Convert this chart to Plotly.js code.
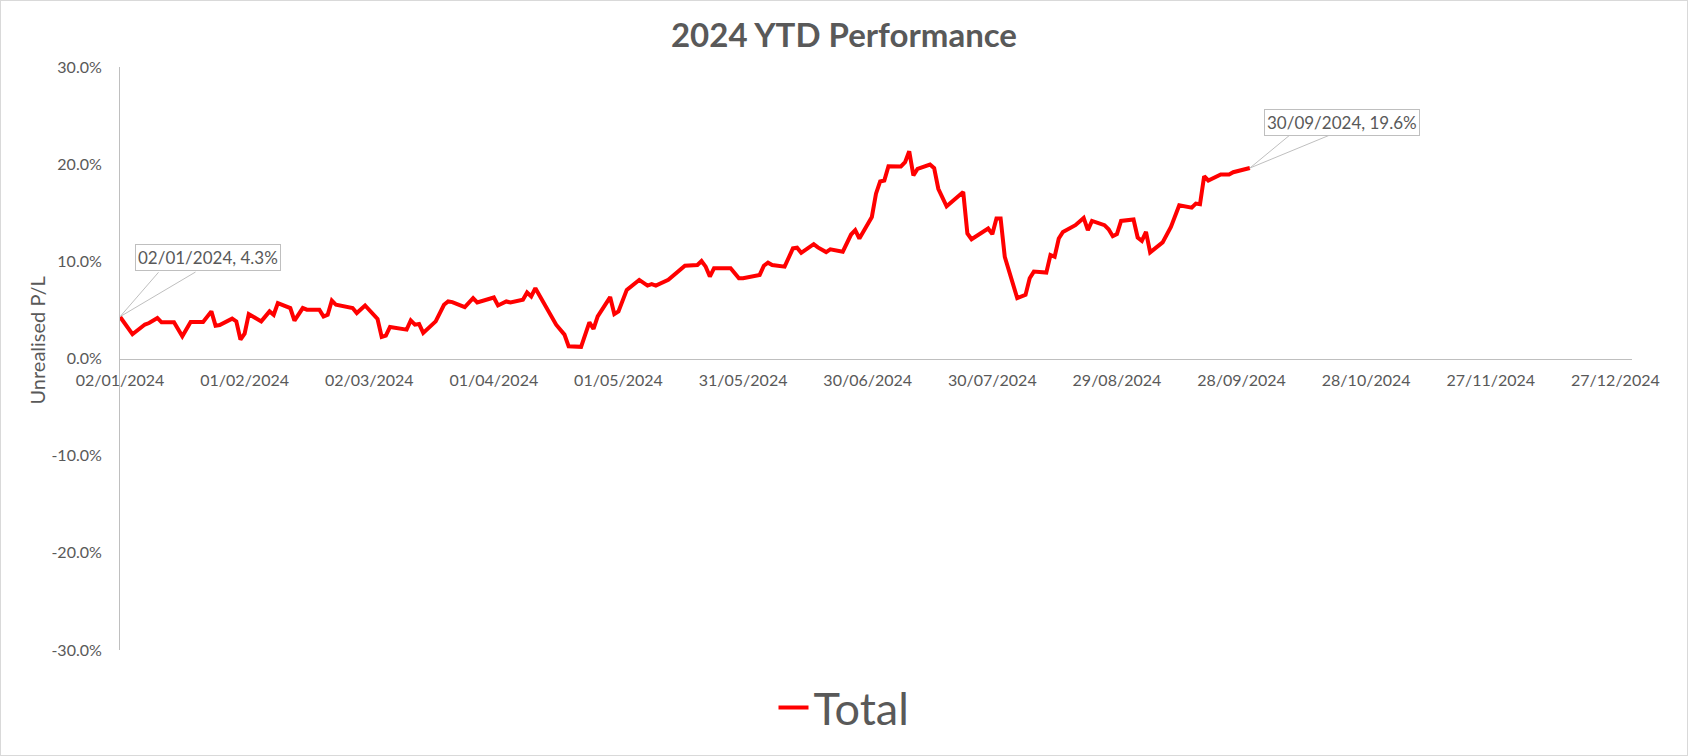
<!DOCTYPE html>
<html>
<head>
<meta charset="utf-8">
<script src="https://cdn.plot.ly/plotly-3.0.1.min.js"></script>
<style>
  html, body { margin: 0; padding: 0; background: #fff; overflow: hidden; }
  #wrap { position: relative; width: 1688px; height: 756px; }
  #chart { width: 1688px; height: 756px; }
  #frame { position: absolute; left: 0; top: 0; width: 1688px; height: 756px; box-sizing: border-box; border: 1px solid #d9d9d9; pointer-events: none; }
</style>
</head>
<body>
<div id="wrap"><div id="chart"></div><div id="frame"></div></div>
<script>
// ---- data ----
const dates = [
  '2024-01-02','2024-01-05','2024-01-08','2024-01-09','2024-01-11','2024-01-12','2024-01-15','2024-01-17','2024-01-19','2024-01-22',
  '2024-01-24','2024-01-25','2024-01-26','2024-01-29','2024-01-30','2024-01-31','2024-02-01','2024-02-02','2024-02-05','2024-02-07',
  '2024-02-08','2024-02-09','2024-02-12','2024-02-13','2024-02-15','2024-02-16','2024-02-19','2024-02-20','2024-02-21','2024-02-22',
  '2024-02-23','2024-02-26','2024-02-27','2024-02-28','2024-03-01','2024-03-04','2024-03-05','2024-03-06','2024-03-07','2024-03-11',
  '2024-03-12','2024-03-13','2024-03-14','2024-03-15','2024-03-18','2024-03-20','2024-03-21','2024-03-22','2024-03-25','2024-03-27',
  '2024-03-28','2024-04-01','2024-04-02','2024-04-04','2024-04-05','2024-04-08','2024-04-09','2024-04-10','2024-04-11','2024-04-16',
  '2024-04-18','2024-04-19','2024-04-22','2024-04-24','2024-04-25','2024-04-26','2024-04-29','2024-04-30','2024-05-01','2024-05-03',
  '2024-05-06','2024-05-08','2024-05-09','2024-05-10','2024-05-13','2024-05-17','2024-05-20','2024-05-21','2024-05-22','2024-05-23',
  '2024-05-24','2024-05-28','2024-05-30','2024-05-31','2024-06-03','2024-06-04','2024-06-05','2024-06-06','2024-06-07','2024-06-10',
  '2024-06-12','2024-06-13','2024-06-14','2024-06-17','2024-06-18','2024-06-19','2024-06-20','2024-06-21','2024-06-24','2024-06-26',
  '2024-06-27','2024-06-28','2024-07-01','2024-07-02','2024-07-03','2024-07-04','2024-07-05','2024-07-08','2024-07-09','2024-07-10',
  '2024-07-11','2024-07-12','2024-07-15','2024-07-16','2024-07-17','2024-07-19','2024-07-23','2024-07-24','2024-07-25','2024-07-29',
  '2024-07-30','2024-07-31','2024-08-01','2024-08-02','2024-08-05','2024-08-07','2024-08-08','2024-08-09','2024-08-12','2024-08-13',
  '2024-08-14','2024-08-15','2024-08-16','2024-08-19','2024-08-21','2024-08-22','2024-08-23','2024-08-26','2024-08-27','2024-08-28',
  '2024-08-29','2024-08-30','2024-09-02','2024-09-03','2024-09-04','2024-09-05','2024-09-06','2024-09-09','2024-09-11','2024-09-13',
  '2024-09-16','2024-09-17','2024-09-18','2024-09-19','2024-09-20','2024-09-23','2024-09-25','2024-09-26','2024-09-27','2024-09-30'
];
const totalPct = [
  4.30, 2.50, 3.50, 3.65, 4.17, 3.72, 3.72, 2.28, 3.75, 3.75,
  4.85, 3.38, 3.45, 4.10, 3.82, 1.95, 2.56, 4.57, 3.82, 4.85,
  4.50, 5.70, 5.19, 3.89, 5.19, 5.02, 5.02, 4.33, 4.50, 5.97,
  5.53, 5.25, 5.19, 4.68, 5.46, 4.07, 2.22, 2.36, 3.25, 2.97,
  3.92, 3.48, 3.55, 2.63, 3.82, 5.53, 5.87, 5.80, 5.29, 6.21,
  5.77, 6.28, 5.46, 5.87, 5.77, 6.04, 6.79, 6.38, 7.24, 3.48,
  2.46, 1.26, 1.20, 3.72, 3.04, 4.33, 6.32, 4.57, 4.85, 7.06,
  8.09, 7.51, 7.65, 7.51, 8.09, 9.55, 9.62, 10.03, 9.45, 8.43,
  9.28, 9.28, 8.26, 8.26, 8.50, 8.60, 9.55, 9.86, 9.62, 9.45,
  11.33, 11.40, 10.88, 11.77, 11.43, 11.20, 10.95, 11.23, 10.99, 12.76,
  13.21, 12.35, 14.57, 16.96, 18.22, 18.32, 19.79, 19.76, 20.20, 21.33,
  18.84, 19.52, 19.96, 19.59, 17.47, 15.66, 17.13, 12.87, 12.28, 13.38,
  12.80, 14.40, 14.40, 10.47, 6.21, 6.55, 8.26, 8.94, 8.84, 10.65,
  10.47, 12.35, 13.03, 13.72, 14.47, 13.21, 14.16, 13.72, 13.30, 12.59,
  12.80, 14.16, 14.30, 12.45, 12.11, 13.03, 10.92, 11.95, 13.54, 15.76,
  15.53, 15.94, 15.87, 18.76, 18.32, 18.94, 18.94, 19.17, 19.28, 19.60
];
const seriesName = 'Total';
const chartTitle = '2024 YTD Performance';
const yAxisTitle = 'Unrealised P/L';
const xTickDates = ['2024-01-02','2024-02-01','2024-03-02','2024-04-01','2024-05-01','2024-05-31','2024-06-30',
                    '2024-07-30','2024-08-29','2024-09-28','2024-10-28','2024-11-27','2024-12-27'];
const xTickLabels = ['02/01/2024','01/02/2024','02/03/2024','01/04/2024','01/05/2024','31/05/2024','30/06/2024',
                     '30/07/2024','29/08/2024','28/09/2024','28/10/2024','27/11/2024','27/12/2024'];
const yTickVals = [-30, -20, -10, 0, 10, 20, 30];
const yTickLabels = ['-30.0%', '-20.0%', '-10.0%', '0.0%', '10.0%', '20.0%', '30.0%'];
const xRange = ['2024-01-02', '2024-12-31'];
const yRange = [-30, 30];

// ---- helpers ----
function fmtDate(iso) { const p = iso.split('-'); return p[2] + '/' + p[1] + '/' + p[0]; }
const FONT = 'Lato, "Open Sans", sans-serif';
const GREY = '#595959';
const LINEGREY = '#bfbfbf';
const W = 1688, H = 756, ML = 120, MR = 56, MT = 67, MB = 103;
const PW = W - ML - MR, PH = H - MT - MB;

function callout(i, boxOff, w1, w2) {
  const x = dates[i], y = totalPct[i];
  const label = fmtDate(x) + ', ' + y.toFixed(1) + '%';
  const common = { x: x, y: y, xref: 'x', yref: 'y', axref: 'pixel', ayref: 'pixel' };
  return [
    Object.assign({}, common, { text: ' ', font: { size: 1 }, showarrow: true, arrowhead: 0, arrowwidth: 1,
      arrowcolor: LINEGREY, ax: w1[0], ay: w1[1], standoff: 0, startstandoff: 0, borderpad: 0 }),
    Object.assign({}, common, { text: ' ', font: { size: 1 }, showarrow: true, arrowhead: 0, arrowwidth: 1,
      arrowcolor: LINEGREY, ax: w2[0], ay: w2[1], standoff: 0, startstandoff: 0, borderpad: 0 }),
    Object.assign({}, common, { text: label, font: { family: FONT, size: 17, color: GREY },
      showarrow: true, arrowcolor: 'rgba(0,0,0,0)', arrowwidth: 0.1, ax: boxOff[0], ay: boxOff[1],
      bgcolor: '#ffffff', bordercolor: LINEGREY, borderwidth: 1, borderpad: 2 })
  ];
}

const trace = {
  type: 'scatter', mode: 'lines', name: seriesName,
  x: dates, y: totalPct,
  line: { color: '#ff0000', width: 4 },
  hoverinfo: 'skip'
};

const layout = {
  width: W, height: H,
  margin: { l: ML, r: MR, t: MT, b: MB, pad: 0 },
  paper_bgcolor: '#ffffff', plot_bgcolor: '#ffffff',
  font: { family: FONT, color: GREY, size: 16 },
  title: { text: '<b>' + chartTitle + '</b>', font: { family: FONT, size: 33, color: GREY },
           x: 0.5, xref: 'container', xanchor: 'center', y: 1 - 35/H, yref: 'container', yanchor: 'middle' },
  xaxis: {
    type: 'date', range: xRange, anchor: 'free', position: 0.5,
    showline: true, linecolor: LINEGREY, linewidth: 1, showgrid: false, zeroline: false,
    tickmode: 'array', tickvals: xTickDates, ticktext: xTickLabels, ticks: '',
    tickfont: { family: FONT, size: 16, color: GREY }, ticklabelstandoff: 7,
    automargin: false, fixedrange: true
  },
  yaxis: {
    range: yRange, showline: true, linecolor: LINEGREY, linewidth: 1, showgrid: false, zeroline: false,
    tickmode: 'array', tickvals: yTickVals, ticktext: yTickLabels, ticks: '',
    tickfont: { family: FONT, size: 16, color: GREY }, ticklabelstandoff: 14,
    automargin: false, fixedrange: true
  },
  showlegend: true,
  legend: { orientation: 'h', x: (844 - ML) / PW, xanchor: 'center', y: (PH + MT - 711) / PH, yanchor: 'middle',
            font: { family: FONT, size: 45, color: GREY }, bgcolor: 'rgba(0,0,0,0)' },
  annotations: [].concat(
    callout(0, [88, -59], [39, -45], [76, -45]),
    callout(dates.length - 1, [92, -46], [40, -33], [80, -33]),
    [{ text: yAxisTitle, textangle: -90, xref: 'paper', yref: 'paper',
       x: (37 - ML) / PW, y: (PH + MT - 342) / PH, xanchor: 'center', yanchor: 'middle', showarrow: false,
       font: { family: FONT, size: 20, color: GREY } }]
  )
};

Plotly.newPlot('chart', [trace], layout, { displayModeBar: false, staticPlot: true });
</script>
</body>
</html>
